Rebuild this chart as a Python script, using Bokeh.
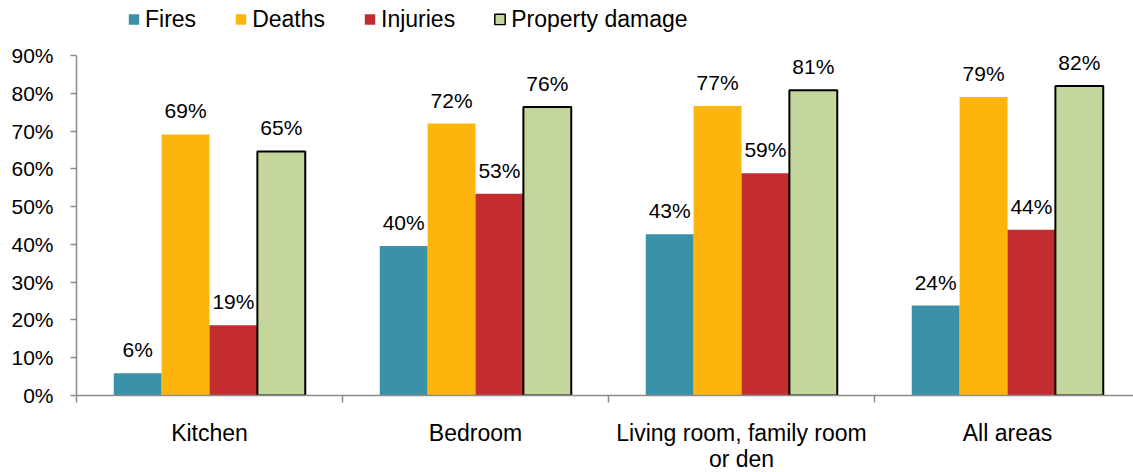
from bokeh.plotting import figure
from bokeh.layouts import column
from bokeh.models import (ColumnDataSource, FixedTicker, LinearAxis, Range1d, Legend,
                          LegendItem, PrintfTickFormatter, LabelSet)
from bokeh.core.properties import value
from bokeh.embed import file_html
from bokeh.resources import INLINE

# ---- data ----
categories = ["Kitchen", "Bedroom", "Living room, family room\nor den", "All areas"]
series_names = ["Fires", "Deaths", "Injuries", "Property damage"]
fires = [5.9, 39.6, 42.7, 23.8]
deaths = [69.1, 72.0, 76.6, 79.0]
injuries = [18.6, 53.4, 58.8, 43.9]
property_damage = [64.6, 76.4, 80.8, 81.9]
y_ticks = [0, 10, 20, 30, 40, 50, 60, 70, 80, 90]

# ---- style ----
FONT = "Liberation Sans"
colors = ["#3A91A8", "#FDB50E", "#C32D30", "#C4D69B"]
outline = [None, None, None, "black"]
offsets = [-0.27, -0.09, 0.09, 0.27]
BAR_W = 0.18
AXIS_GRAY = "#8C8C8C"
W, H = 1133, 472
LEFT = 76
SLOT = 266
TOP_H = 38          # legend strip
MAIN_TOP = 17       # border above frame in main figure
FRAME_H = 340
MAIN_BOTTOM = 20
BOT_H = H - TOP_H - (MAIN_TOP + FRAME_H + MAIN_BOTTOM)

x_range = Range1d(0, (W - LEFT) / SLOT)
all_series = [fires, deaths, injuries, property_damage]


def bare(fig):
    fig.outline_line_color = None
    fig.background_fill_color = "white"
    fig.border_fill_color = "white"
    return fig


def bar_sources():
    out = []
    for vals, off in zip(all_series, offsets):
        xs = [i + 0.5 + off for i in range(len(categories))]
        out.append(ColumnDataSource(dict(x=xs, top=vals,
                                         label=[f"{v:.0f}%" for v in vals])))
    return out


# ---- legend strip (zero-size proxies, only used for the legend swatches) ----
top = bare(figure(width=W, height=TOP_H, output_backend="svg", toolbar_location=None,
                  x_range=x_range, y_range=Range1d(-2, -1),
                  min_border_left=LEFT, min_border_right=0, min_border_top=0,
                  min_border_bottom=0, x_axis_type=None, y_axis_type=None))
legend_items = []
for name, src, col, lc in zip(series_names, bar_sources(), colors, outline):
    if lc is None:
        r = top.rect(x="x", y="top", width=0, height=0, source=src, fill_color=col,
                     line_color=None)
    else:
        r = top.rect(x="x", y="top", width=0, height=0, source=src, fill_color=col,
                     line_color=lc, line_width=1.5)
    legend_items.append(LegendItem(label=name, renderers=[r]))
legend = Legend(items=legend_items, orientation="horizontal", location="left", margin=51,
                glyph_width=13, glyph_height=13, label_standoff=5, spacing=38,
                padding=0, border_line_color=None, background_fill_alpha=0,
                label_text_font=FONT, label_text_font_size="23px", label_text_color="black")
top.add_layout(legend, "center")

# ---- main chart ----
p = bare(figure(width=W, height=MAIN_TOP + FRAME_H + MAIN_BOTTOM, output_backend="svg",
                toolbar_location=None, x_range=x_range, y_range=Range1d(0, 90),
                min_border_left=LEFT, min_border_right=0, min_border_top=MAIN_TOP,
                min_border_bottom=MAIN_BOTTOM, x_axis_type=None, y_axis_type=None))

for src, col, lc in zip(bar_sources(), colors, outline):
    if lc is None:
        p.vbar(x="x", top="top", width=BAR_W, source=src, fill_color=col, line_color=None)
    else:
        p.vbar(x="x", top="top", width=BAR_W, source=src, fill_color=col,
               line_color=lc, line_width=2)
    p.add_layout(LabelSet(x="x", y="top", text="label", source=src, text_align="center",
                          text_baseline="alphabetic", y_offset=16,
                          text_font=value(FONT), text_font_size="21px", text_color="black"))

yaxis = LinearAxis(ticker=FixedTicker(ticks=y_ticks, minor_ticks=[]),
                   formatter=PrintfTickFormatter(format="%d%%"))
yaxis.axis_line_color = AXIS_GRAY
yaxis.axis_line_width = 1.5
yaxis.major_tick_line_color = AXIS_GRAY
yaxis.major_tick_line_width = 1.5
yaxis.major_tick_out = 6
yaxis.major_tick_in = 0
yaxis.minor_tick_out = 0
yaxis.minor_tick_in = 0
yaxis.major_label_text_font = FONT
yaxis.major_label_text_font_size = "21px"
yaxis.major_label_text_color = "black"
yaxis.major_label_standoff = 17
p.add_layout(yaxis, "left")

xaxis = LinearAxis(ticker=FixedTicker(ticks=[], minor_ticks=list(range(len(categories) + 1))))
xaxis.axis_line_color = AXIS_GRAY
xaxis.axis_line_width = 1.5
xaxis.major_tick_line_color = None
xaxis.major_tick_out = 0
xaxis.major_tick_in = 0
xaxis.minor_tick_out = 7
xaxis.minor_tick_in = 0
xaxis.minor_tick_line_color = AXIS_GRAY
xaxis.minor_tick_line_width = 1.5
xaxis.major_label_standoff = 0
xaxis.major_label_text_font_size = "0px"
p.add_layout(xaxis, "below")

# ---- category names strip ----
bot = bare(figure(width=W, height=BOT_H, output_backend="svg", toolbar_location=None,
                  x_range=x_range, y_range=Range1d(BOT_H, 0),
                  min_border_left=LEFT, min_border_right=0, min_border_top=0,
                  min_border_bottom=0, x_axis_type=None, y_axis_type=None))
cat_src = ColumnDataSource(dict(x=[i + 0.5 for i in range(len(categories))],
                                y=[4] * len(categories), text=categories))
bot.text(x="x", y="y", text="text", source=cat_src, text_align="center",
         text_baseline="top", text_line_height=1.0,
         text_font=value(FONT), text_font_size="23px", text_color="black")

layout = column(top, p, bot, spacing=0)
open("out.html", "w").write(file_html(layout, INLINE))
